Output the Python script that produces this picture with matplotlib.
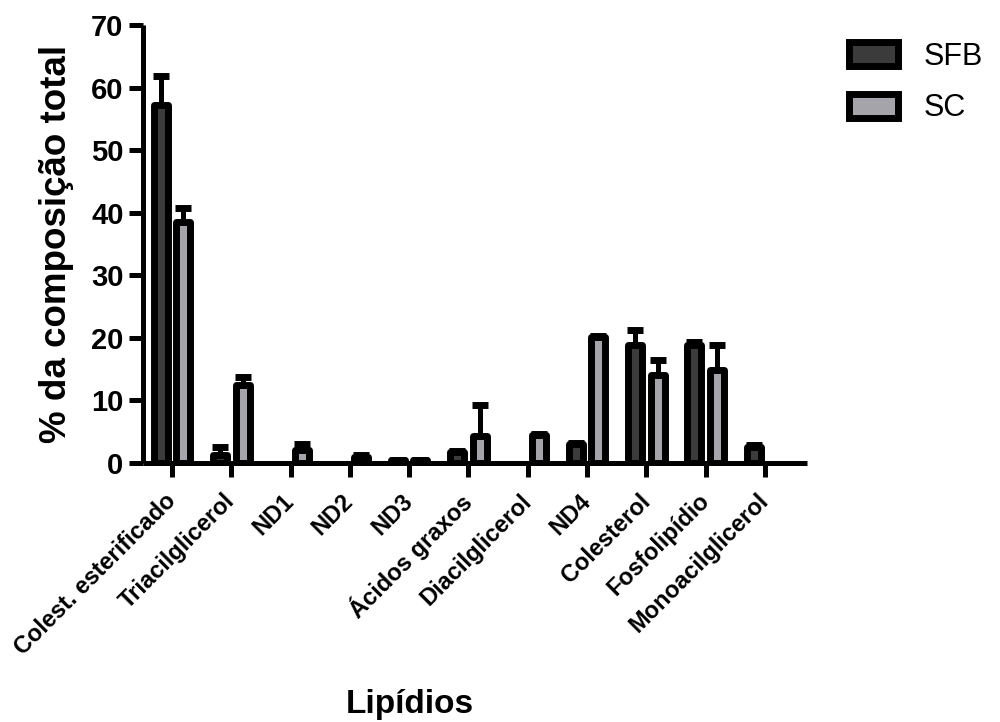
import numpy as np
import matplotlib
matplotlib.use("Agg")
import matplotlib.pyplot as plt

plt.rcParams['font.family'] = ['Liberation Sans', 'DejaVu Sans']

# Lipid classes and mean composition (% of total) with upper SD
categories = ["Colest. esterificado", "Triacilglicerol", "ND1", "ND2", "ND3",
              "Ácidos graxos", "Diacilglicerol", "ND4", "Colesterol",
              "Fosfolipídio", "Monoacilglicerol"]
sfb_values = [57.2, 1.3, 0.0, 0.0, 0.4, 1.7, 0.0, 3.0, 18.9, 18.9, 2.6]
sfb_errors = [4.7, 1.2, 0.0, 0.0, 0.1, 0.2, 0.0, 0.2, 2.3, 0.4, 0.2]
sc_values = [38.5, 12.4, 2.0, 1.0, 0.4, 4.3, 4.4, 20.1, 14.1, 14.8, 0.0]
sc_errors = [2.3, 1.3, 1.0, 0.2, 0.1, 4.9, 0.2, 0.2, 2.3, 4.1, 0.0]
series_names = ["SFB", "SC"]
y_ticks = [0, 10, 20, 30, 40, 50, 60, 70]

SFB_COLOR = "#3b3b3b"
SC_COLOR = "#a4a4aa"

fig = plt.figure(figsize=(10, 7.22), dpi=100)
ax = fig.add_axes([0.143, 1 - 463 / 722, (807 - 143) / 1000, (463 - 25) / 722])

x = np.arange(len(categories))
offset = 0.19
width = 0.235
edge_lw = 5.0

groups = [
    (x - offset, sfb_values, sfb_errors, SFB_COLOR, series_names[0]),
    (x + offset, sc_values, sc_errors, SC_COLOR, series_names[1]),
]

handles = []
for xpos, vals, errs, color, name in groups:
    vals = np.asarray(vals)
    errs = np.asarray(errs)
    shown = vals > 0
    bars = ax.bar(xpos[shown], vals[shown], width=width, color=color,
                  edgecolor="black", linewidth=edge_lw, zorder=3, label=name)
    for b in bars:
        b.set_joinstyle("round")
    handles.append(bars)
    mask = errs > 0
    _, caps, _ = ax.errorbar(xpos[mask], vals[mask],
                             yerr=[np.zeros(mask.sum()), errs[mask]],
                             fmt="none", ecolor="black", elinewidth=3.6,
                             capsize=6, capthick=5, zorder=4)
    # only the upper cap is drawn
    caps[0].set_visible(False)
    caps[1].set_solid_capstyle("round")

ax.set_xlim(-0.489, 10.71)
ax.set_ylim(0, 70)
ax.set_yticks(y_ticks)
ax.set_yticklabels([str(t) for t in y_ticks], fontsize=21, fontweight="bold")
ax.set_xticks(x)
ax.set_xticklabels(categories, rotation=45, ha="right", va="center",
                   rotation_mode="anchor", fontsize=17, fontweight="bold")

for side in ("top", "right"):
    ax.spines[side].set_visible(False)
for side in ("left", "bottom"):
    ax.spines[side].set_linewidth(3.6)
    ax.spines[side].set_capstyle("butt")
ax.tick_params(axis="both", direction="out", length=10, width=3.6, pad=4)
ax.tick_params(axis="x", pad=15)

ax.set_ylabel("% da composição total", fontsize=26.5, fontweight="bold", labelpad=12)
fig.text(0.41, 1 - 713 / 722, "Lipídios", fontsize=24, fontweight="bold",
         ha="center", va="baseline")

leg = ax.legend(handles=handles, labels=series_names, frameon=False,
                loc="upper left", bbox_to_anchor=(0.849, 0.942),
                bbox_transform=fig.transFigure, fontsize=22,
                handlelength=1.6, handleheight=0.85, labelspacing=0.7,
                handletextpad=0.85, borderpad=0, borderaxespad=0)

fig.savefig("out.png", dpi=100)
